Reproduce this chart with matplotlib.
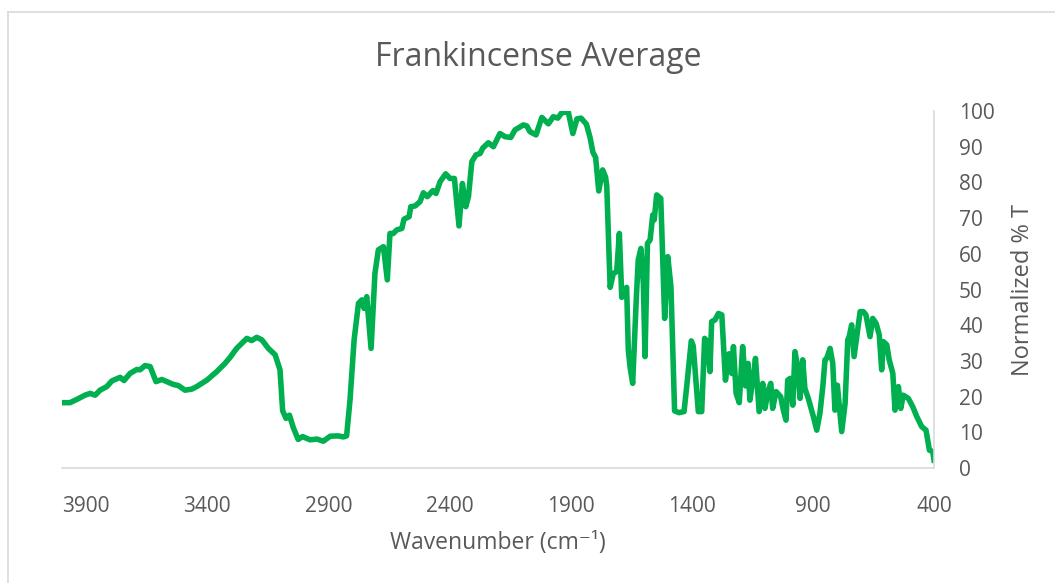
import matplotlib.pyplot as plt
from matplotlib.lines import Line2D

plt.rcParams['font.family'] = ['Open Sans', 'DejaVu Sans']

# spectrum (wavenumber in cm-1, normalized %T)
wavenumber = [4000, 3967, 3939, 3905, 3884, 3863, 3843, 3815, 3794, 3760, 3744, 3719, 3691, 3678,
              3657, 3636, 3612, 3588, 3567, 3540, 3520, 3492, 3464, 3444, 3402, 3361, 3327, 3306,
              3279, 3237, 3217, 3196, 3175, 3148, 3120, 3100, 3089, 3075, 3061, 3045, 3025, 3007,
              2976, 2947, 2921, 2893, 2860, 2838, 2825, 2811, 2794, 2776, 2762, 2753, 2742, 2724,
              2708, 2694, 2673, 2657, 2646, 2632, 2618, 2597, 2588, 2567, 2560, 2542, 2522, 2508,
              2492, 2469, 2456, 2439, 2416, 2398, 2380, 2361, 2347, 2333, 2322, 2308, 2291, 2274,
              2263, 2240, 2219, 2192, 2171, 2147, 2130, 2095, 2081, 2068, 2043, 2019, 1992, 1972,
              1953, 1937, 1910, 1891, 1874, 1857, 1835, 1820, 1808, 1797, 1784, 1768, 1756, 1751,
              1737, 1724, 1710, 1699, 1689, 1669, 1662, 1655, 1644, 1629, 1621, 1610, 1600, 1593,
              1583, 1572, 1561, 1555, 1545, 1528, 1512, 1499, 1486, 1471, 1453, 1432, 1421, 1402,
              1394, 1373, 1359, 1347, 1337, 1325, 1318, 1304, 1290, 1276, 1261, 1246, 1235, 1228,
              1217, 1204, 1190, 1178, 1168, 1160, 1146, 1137, 1122, 1107, 1098, 1084, 1074, 1066,
              1052, 1033, 1022, 1011, 1004, 994, 983, 974, 963, 953, 942, 933, 919, 898,
              884, 871, 859, 850, 843, 829, 818, 809, 799, 781, 767, 756, 750, 740,
              730, 719, 705, 692, 681, 664, 653, 639, 626, 616, 609, 595, 585, 570,
              561, 547, 537, 527, 506, 488, 471, 451, 433, 419, 405, 400]
transmittance = [18.3, 18.3, 19.2, 20.4, 20.9, 20.4, 21.8, 22.8, 24.4, 25.4, 24.5, 26.5, 27.6, 27.5,
                 28.7, 28.4, 24.2, 24.8, 24.2, 23.4, 23.1, 21.8, 22.1, 22.8, 24.6, 27.0, 29.3, 31.0,
                 33.5, 36.3, 35.7, 36.6, 35.9, 33.5, 31.7, 27.5, 16.0, 13.9, 14.8, 11.3, 8.0, 8.8,
                 7.9, 8.1, 7.5, 8.9, 9.0, 8.7, 9.0, 19.0, 35.9, 46.1, 47.1, 44.7, 48.0, 33.5,
                 54.5, 61.1, 62.0, 52.7, 65.7, 65.7, 66.7, 67.1, 69.7, 70.4, 73.2, 73.4, 74.6, 77.1,
                 76.0, 77.7, 76.9, 80.2, 82.4, 81.1, 81.1, 67.8, 79.7, 73.2, 76.0, 85.8, 87.7, 88.1,
                 89.6, 91.1, 90.0, 93.7, 92.8, 92.6, 94.7, 96.1, 95.8, 94.2, 93.3, 98.2, 96.4, 98.4,
                 98.0, 99.5, 99.8, 93.7, 97.8, 98.0, 96.3, 92.6, 88.4, 87.0, 77.6, 83.5, 81.5, 79.0,
                 50.6, 54.5, 55.0, 65.7, 47.8, 50.6, 33.0, 28.4, 23.7, 47.5, 58.3, 61.5, 51.7, 31.2,
                 62.9, 63.9, 70.9, 69.5, 76.5, 75.5, 41.9, 59.2, 50.8, 16.0, 15.5, 15.8, 22.8, 35.6,
                 34.2, 15.8, 15.8, 36.3, 35.5, 27.0, 41.0, 41.5, 43.3, 42.9, 24.6, 32.0, 26.5, 34.0,
                 20.9, 18.3, 34.0, 23.0, 29.3, 19.0, 25.6, 30.7, 15.8, 23.7, 16.7, 21.8, 23.7, 16.7,
                 21.4, 20.0, 16.2, 13.4, 24.6, 25.1, 17.6, 32.6, 28.4, 19.5, 30.3, 22.3, 19.5, 14.4,
                 10.6, 15.3, 22.8, 30.3, 30.7, 33.5, 29.3, 16.2, 23.2, 10.2, 18.1, 35.9, 36.8, 40.1,
                 31.2, 36.8, 43.8, 43.8, 42.9, 36.8, 41.9, 40.5, 37.3, 27.5, 35.4, 34.5, 30.3, 26.5,
                 16.2, 22.8, 16.7, 20.4, 19.5, 17.2, 14.4, 11.6, 10.6, 5.0, 4.6, 2.2]

x_ticks = [3900, 3400, 2900, 2400, 1900, 1400, 900, 400]
y_ticks = [0, 10, 20, 30, 40, 50, 60, 70, 80, 90, 100]

txt = '#595959'
grey = '#d9d9d9'

fig = plt.figure(figsize=(10.55, 5.83), dpi=100)
ax = fig.add_axes([62/1055, 115/583, 872/1055, 357/583])

ax.plot(wavenumber, transmittance, color='#00b050', lw=4, solid_joinstyle='round')

ax.set_xlim(4000, 400)
ax.set_ylim(0, 100)
ax.set_xticks(x_ticks)
ax.set_yticks(y_ticks)
ax.yaxis.tick_right()
ax.yaxis.set_label_position('right')
ax.tick_params(length=0, labelsize=15, labelcolor=txt)
ax.tick_params(axis='x', pad=20)
ax.tick_params(axis='y', pad=18)

for s in ['top', 'left']:
    ax.spines[s].set_visible(False)
for s in ['bottom', 'right']:
    ax.spines[s].set_color(grey)
    ax.spines[s].set_linewidth(1.2)

ax.set_xlabel('Wavenumber (cm⁻¹)', fontsize=16.5, color=txt, labelpad=10)
ax.set_ylabel('Normalized % T', fontsize=17, color=txt, labelpad=12)
fig.text(538/1055, 1 - 57/583, 'Frankincense Average', fontsize=23, color=txt,
         ha='center', va='center')

# chart area border (top and left edges visible)
fig.add_artist(Line2D([8/1055, 1], [1 - 12/583, 1 - 12/583], color=grey, lw=1.2))
fig.add_artist(Line2D([8/1055, 8/1055], [0, 1 - 12/583], color=grey, lw=1.2))

fig.savefig('out.png', dpi=100)
